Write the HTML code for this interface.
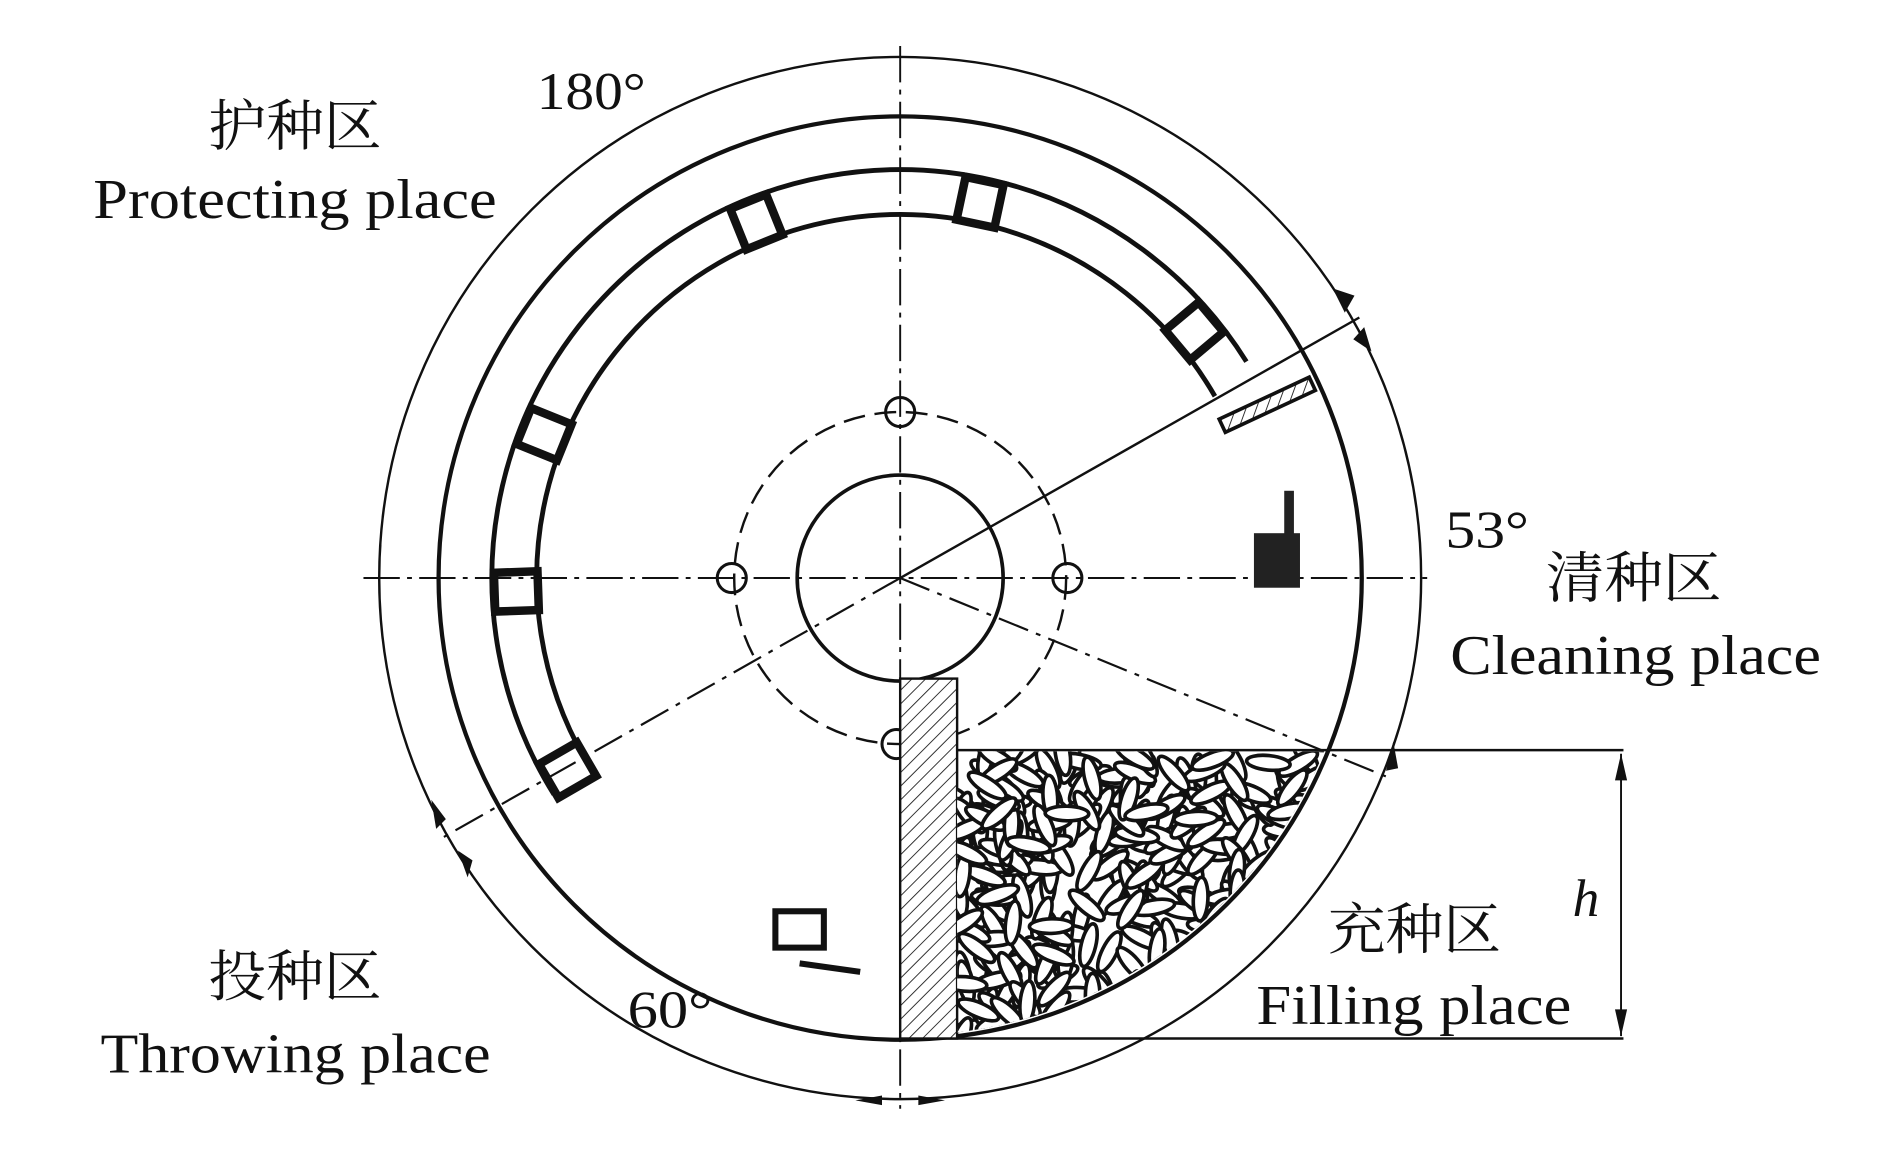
<!DOCTYPE html>
<html><head><meta charset="utf-8"><style>
html,body{margin:0;padding:0;background:#fff;}
svg{display:block;}
text{font-family:"Liberation Serif","Noto Serif CJK SC",serif;fill:#111;}
</style></head><body>
<svg id="s" width="1890" height="1150" viewBox="0 0 1560 949" preserveAspectRatio="none" xmlns="http://www.w3.org/2000/svg">
<defs>
<pattern id="hat" width="8" height="8" patternUnits="userSpaceOnUse" patternTransform="rotate(45)">
<rect width="8" height="8" fill="#fff"/><line x1="0" y1="0" x2="0" y2="8" stroke="#222" stroke-width="1.5"/></pattern>
<clipPath id="fc"><path d="M790,620 H1200 V860 H790 Z"/></clipPath>
<clipPath id="cc"><circle cx="743" cy="477" r="378"/></clipPath>
</defs>
<g stroke="#111" fill="none">
<circle cx="743" cy="477" r="430" stroke-width="2"/>
<circle cx="743" cy="477" r="381" stroke-width="3.5"/>
<line x1="743" y1="38" x2="743" y2="915" stroke-width="1.6" stroke-dasharray="30,6,4,6"/>
<line x1="300" y1="477" x2="1178" y2="477" stroke-width="1.6" stroke-dasharray="30,6,4,6"/>
<circle cx="743" cy="477" r="85" stroke-width="3"/>
<circle cx="743" cy="477" r="137" stroke-width="2" stroke-dasharray="18,8"/>
<circle cx="743" cy="340" r="12" stroke-width="2.5"/>
<circle cx="604" cy="477" r="12" stroke-width="2.5"/>
<circle cx="881" cy="477" r="12" stroke-width="2.5"/>
<circle cx="740" cy="614" r="12" stroke-width="2.5"/>
<line x1="743" y1="477" x2="1122" y2="262" stroke-width="2"/>
<line x1="743" y1="477" x2="1147" y2="642" stroke-width="1.8" stroke-dasharray="26,7,4,7"/>
<line x1="743" y1="477" x2="364" y2="692" stroke-width="1.8" stroke-dasharray="26,7,4,7"/>
<path id="ao" stroke-width="4"/>
<path id="ai" stroke-width="4"/>
<line x1="790" y1="619" x2="1340" y2="619" stroke-width="2"/>
<line x1="743" y1="857" x2="1340" y2="857" stroke-width="2"/>
<line x1="1338" y1="622" x2="1338" y2="855" stroke-width="1.6"/>
</g>
<path d="M1338,622 l-5,22 h10z M1338,855 l-5,-22 h10z" fill="#111"/>
<rect x="743" y="560" width="47" height="297" fill="url(#hat)" stroke="#111" stroke-width="2"/>
<g id="seeds" clip-path="url(#fc)"><g clip-path="url(#cc)"></g></g>
<rect x="1005" y="328" width="82" height="12" fill="url(#hat)" stroke="#111" stroke-width="3" transform="rotate(-25 1046 334)"/>
<rect x="1035" y="440" width="38" height="45" fill="#222"/>
<rect x="1060" y="405" width="8" height="40" fill="#222"/>
<g fill="none" stroke="#111" stroke-width="5">
<rect x="640" y="752" width="40" height="30"/>
<line x1="660" y1="795" x2="710" y2="802"/>
</g>
<g id="cells" fill="#222"></g>
<text x="443" y="90" font-size="44" textLength="90" lengthAdjust="spacingAndGlyphs">180°</text>
<text x="172" y="120" font-size="46" textLength="143" lengthAdjust="spacingAndGlyphs">护种区</text>
<text x="77" y="180" font-size="46" textLength="333" lengthAdjust="spacingAndGlyphs">Protecting place</text>
<text x="1193" y="452" font-size="44" textLength="69" lengthAdjust="spacingAndGlyphs">53°</text>
<text x="1276" y="493" font-size="46" textLength="145" lengthAdjust="spacingAndGlyphs">清种区</text>
<text x="1197" y="556" font-size="46" textLength="306" lengthAdjust="spacingAndGlyphs">Cleaning place</text>
<text x="1096" y="783" font-size="46" textLength="143" lengthAdjust="spacingAndGlyphs">充种区</text>
<text x="1037" y="845" font-size="46" textLength="260" lengthAdjust="spacingAndGlyphs">Filling place</text>
<text x="172" y="822" font-size="46" textLength="143" lengthAdjust="spacingAndGlyphs">投种区</text>
<text x="83" y="885" font-size="46" textLength="322" lengthAdjust="spacingAndGlyphs">Throwing place</text>
<text x="518" y="848" font-size="44" textLength="70" lengthAdjust="spacingAndGlyphs">60°</text>
<text x="1298" y="756" font-size="44" font-style="italic">h</text>
<path d="M1100,238 l10,20 l8,-14z M1132,290 l-6,-20 l-9,10z M1150,612 l-6,24 l10,-2z M356,660 l4,24 l8,-8z M378,702 l8,22 l4,-14z M706,908 l22,-4 v8z M780,908 l-22,-4 v8z" fill="#111"/>
</svg>
<script>
var cx=743,cy=477,d2r=Math.PI/180;
function arc(r,a1,a2){var x1=cx+r*Math.cos(a1*d2r),y1=cy+r*Math.sin(a1*d2r),x2=cx+r*Math.cos(a2*d2r),y2=cy+r*Math.sin(a2*d2r);return "M"+x1+","+y1+" A"+r+","+r+" 0 1 1 "+x2+","+y2;}
document.getElementById('ao').setAttribute('d',arc(337,148,-32));
document.getElementById('ai').setAttribute('d',arc(300,150,-30));
var ns="http://www.w3.org/2000/svg";
var cells=document.getElementById('cells');
[150,178,-158,-112,-78,-40].forEach(function(a){
 var r=document.createElementNS(ns,'rect');r.setAttribute('x',-16);r.setAttribute('y',-335);r.setAttribute('width',32);r.setAttribute('height',36);
 r.setAttribute('fill','none');r.setAttribute('stroke','#111');r.setAttribute('stroke-width','7');
 r.setAttribute('transform','translate(743,477) rotate('+(a+90)+')');cells.appendChild(r);});
var g=document.querySelector('#seeds g');var s=7;
function rnd(){s=(s*9301+49297)%233280;return s/233280;}
for(var i=0;i<340;i++){var x=792+rnd()*300,y=622+rnd()*240;
 var e=document.createElementNS(ns,'ellipse');e.setAttribute('cx',x);e.setAttribute('cy',y);e.setAttribute('rx',18);e.setAttribute('ry',6);
 e.setAttribute('fill','#fff');e.setAttribute('stroke','#111');e.setAttribute('stroke-width','3');
 e.setAttribute('transform','rotate('+(rnd()*180)+' '+x+' '+y+')');g.appendChild(e);}
</script>
</body></html>
